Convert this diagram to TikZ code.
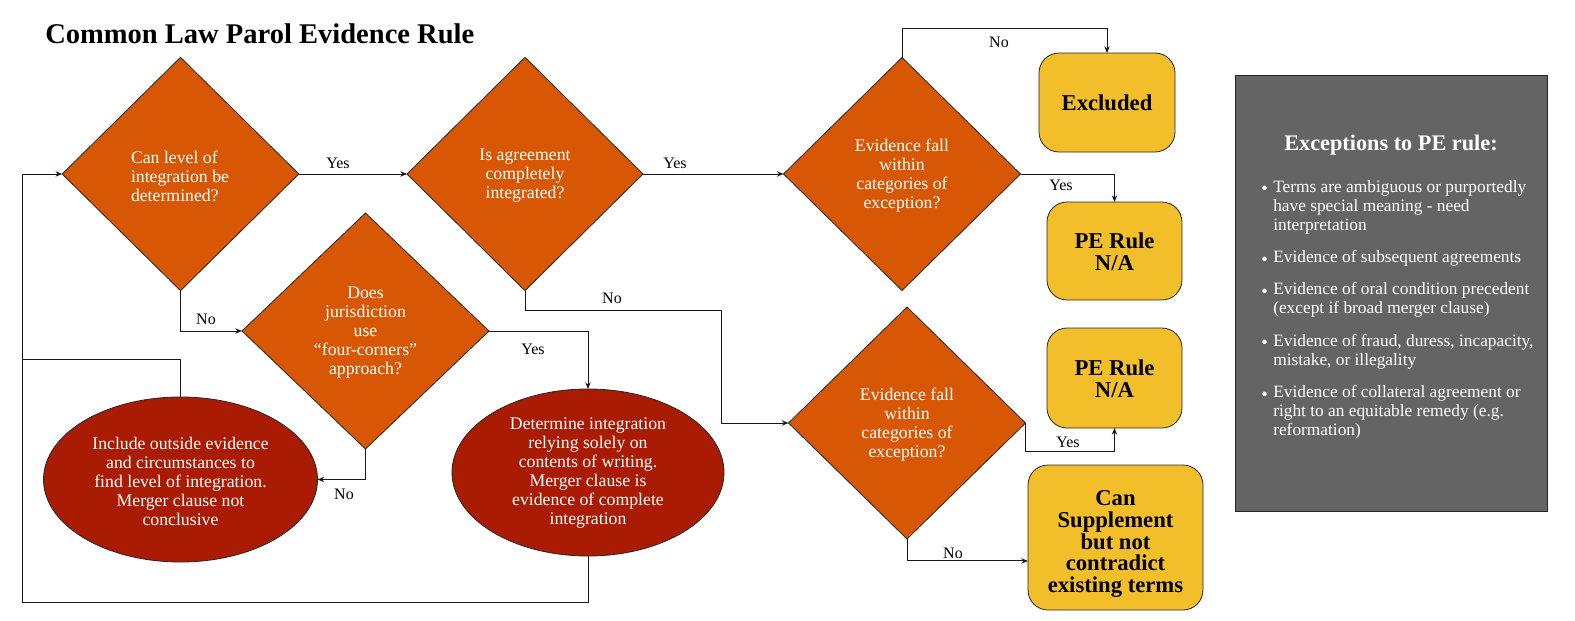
\documentclass[tikz,border=0pt]{standalone}
\usepackage{fontspec}
\setmainfont{Liberation Serif}
\usetikzlibrary{shapes.geometric,arrows.meta,calc}
\definecolor{dorange}{RGB}{215,87,5}
\definecolor{dred}{RGB}{170,27,3}
\definecolor{gold}{RGB}{242,190,42}
\definecolor{greybox}{RGB}{100,100,100}
\newcommand{\pebul}{\makebox[9pt][l]{\raisebox{-1.9pt}{\fontsize{14}{14}\selectfont\textbullet}}}
\newcommand{\pehang}{\hspace*{9pt}}
\begin{document}
\begin{tikzpicture}[x=0.75pt,y=-0.75pt,
  dia/.style={diamond, draw=black!85, fill=dorange, inner sep=0pt, outer sep=0pt, line width=0.6pt},
  ell/.style={ellipse, draw=black!85, fill=dred, inner sep=0pt, outer sep=0pt, line width=0.6pt},
  wtxt/.style={text=white, align=center, inner sep=0pt, font=\fontsize{13.3}{14.25}\selectfont},
  goldbox/.style={rectangle, rounded corners=15pt, draw=black!85, fill=gold, line width=0.6pt, inner sep=0pt, outer sep=0pt},
  btxt/.style={text=black, align=center, inner sep=0pt, font=\fontsize{17}{16.4}\selectfont\bfseries},
  conn/.style={draw=black!90, line width=0.75pt},
  arr/.style={conn, -{Stealth[length=5pt,width=4pt]}},
  lbl/.style={font=\fontsize{12}{14}\selectfont, inner sep=0pt}
]
\useasboundingbox (0,0) rectangle (1575,621);

% title
\node[anchor=base west, inner sep=0pt, font=\fontsize{21.4}{25}\selectfont\bfseries] (title) at (45,43) {Common Law Parol Evidence Rule};

% decision diamonds
\node[dia, minimum width=177.5pt, minimum height=175pt] (d1) at (180.5,174) {};
\node[dia, minimum width=177pt, minimum height=175pt] (d2) at (525,174) {};
\node[dia, minimum width=185.25pt, minimum height=177pt] (d3) at (365.5,331) {};
\node[dia, minimum width=177.75pt, minimum height=174.75pt] (d4) at (902,174) {};
\node[dia, minimum width=177.75pt, minimum height=174pt] (d5) at (907,423) {};

\node[wtxt, align=left] (t1) at (180,176) {Can level of\\integration be\\determined?};
\node[wtxt] (t2) at (525,176) {Is agreement\\completely\\integrated?};
\node[wtxt] (t3) at (365.5,332.5) {Does\\jurisdiction\\use\\“four-corners”\\approach?};
\node[wtxt] (t4) at (902,175.5) {Evidence fall\\within\\categories of\\exception?};
\node[wtxt] (t5) at (907,424.5) {Evidence fall\\within\\categories of\\exception?};

% ellipses
\node[ell, minimum width=205.5pt, minimum height=123.75pt] (e1) at (180.5,479.5) {};
\node[ell, minimum width=204pt, minimum height=125.25pt] (e2) at (588,472.5) {};
\node[wtxt] (te1) at (180.5,481) {Include outside evidence\\and circumstances to\\find level of integration.\\Merger clause not\\conclusive};
\node[wtxt] (te2) at (588,473.5) {Determine integration\\relying solely on\\contents of writing.\\Merger clause is\\evidence of complete\\integration};

% outcome boxes
\node[goldbox, minimum width=102pt, minimum height=74.25pt] (ex) at (1107,102.5) {};
\node[btxt] (tex) at (1107,103) {Excluded};
\node[goldbox, minimum width=101.25pt, minimum height=73.5pt] (pe1) at (1114.5,251) {};
\node[btxt] (tpe1) at (1114.5,252) {PE Rule\\N/A};
\node[goldbox, minimum width=101.25pt, minimum height=75pt] (pe2) at (1114.5,378) {};
\node[btxt] (tpe2) at (1114.5,379) {PE Rule\\N/A};
\node[goldbox, minimum width=131.25pt, minimum height=108.75pt] (cs) at (1115.5,537.5) {};
\node[btxt] (tcs) at (1115.5,544) {Can\\Supplement\\but not\\contradict\\existing terms};

% exceptions panel
\node[rectangle, draw=black!85, fill=greybox, line width=0.75pt, minimum width=234pt, minimum height=327pt, inner sep=0pt] (panel) at (1391,293) {};
\node[text=white, inner sep=0pt, font=\fontsize{16.7}{18}\selectfont\bfseries] (ptitle) at (1391,145) {Exceptions to PE rule:};
\node[anchor=north west, text=white, inner sep=0pt, align=left, font=\fontsize{13}{14.25}\selectfont] (plist) at (1261,180) {%
\pebul Terms are ambiguous or purportedly\\
\pehang have special meaning - need\\
\pehang interpretation\\[10pt]
\pebul Evidence of subsequent agreements\\[10pt]
\pebul Evidence of oral condition precedent\\
\pehang (except if broad merger clause)\\[10pt]
\pebul Evidence of fraud, duress, incapacity,\\
\pehang mistake, or illegality\\[10pt]
\pebul Evidence of collateral agreement or\\
\pehang right to an equitable remedy (e.g.\\
\pehang reformation)};

% helper coordinates
\coordinate (c1) at (22,359);
\coordinate (c2) at (22,602);
\coordinate (c3) at (721,310);

% connectors
\draw[arr] (d1.east) -- (d2.west);
\draw[arr] (d2.east) -- (d4.west);
\draw[arr] (d4.north) -- ++(0,-29) -| (ex.north);
\draw[arr] (d4.east) -| (pe1.north);
\draw[arr] (d1.south) |- (d3.west);
\draw[arr] (d3.east) -| (e2.north);
\draw[arr] (d3.south) |- (e1.east);
\draw[arr] (e1.north) |- (c1) -- (c1 |- d1.west) -- (d1.west);
\draw[conn] (e2.south) |- (c2) -- (c1);
\draw[arr] (d2.south) |- (c3) |- (d5.west);
\draw[arr] (d5.east) -- ++(0,28) -| (pe2.south);
\draw[arr] (d5.south) |- ([yshift=-17.6pt]cs.west);

% labels
\node[lbl] (y1) at (338,163) {Yes};
\node[lbl] (y2) at (675,163) {Yes};
\node[lbl] (n1) at (999,42) {No};
\node[lbl] (y3) at (1061,185) {Yes};
\node[lbl] (n2) at (206,319) {No};
\node[lbl] (y4) at (533,349) {Yes};
\node[lbl] (n3) at (344,494) {No};
\node[lbl] (n4) at (612,298) {No};
\node[lbl] (y5) at (1068,442) {Yes};
\node[lbl] (n5) at (953,553) {No};
\end{tikzpicture}
\end{document}
